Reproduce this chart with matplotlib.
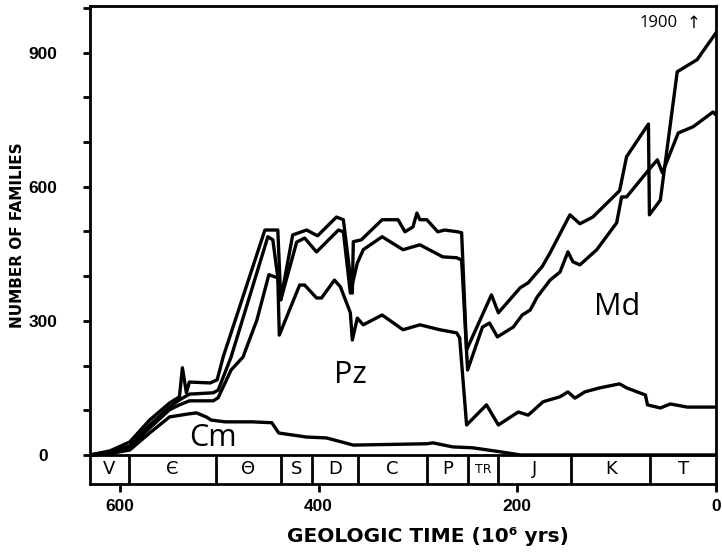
import matplotlib
matplotlib.use("Agg")
import matplotlib.pyplot as plt
from matplotlib.ticker import MultipleLocator, FuncFormatter

# Cambrian fauna (lowest curve)
cm_age = [630, 610, 590, 570, 550, 530, 523, 513, 508, 494, 467, 447, 440, 412, 392, 365,
          291, 285, 265, 245, 217, 197, 0]
cm_n = [0, 3, 11, 49, 85, 92, 94, 85, 78, 74, 74, 72, 49, 40, 38, 22,
        25, 27, 18, 16, 7, 0, 0]

# Cambrian + Paleozoic fauna
pz_age = [630, 610, 590, 570, 550, 540, 530, 506, 501, 488, 476, 462, 450, 441, 439.5, 419, 414,
          402, 397, 384, 378, 368, 366, 361, 355, 336, 315, 298, 278, 261, 258, 251, 231, 219,
          199, 189, 174, 157, 149, 142, 132, 117, 97, 90, 71, 69, 56, 46, 29, 0]
pz_n = [0, 4, 16, 60, 101, 112, 121, 121, 128, 190, 219, 302, 403, 396, 268, 380, 380,
        351, 351, 391, 376, 318, 257, 306, 291, 313, 280, 291, 280, 273, 262, 67, 112, 67,
        96, 89, 119, 130, 141, 127, 141, 150, 159, 150, 134, 112, 105, 114, 107, 107]

# Cambrian + Paleozoic + Modern fauna
md_age = [630, 610, 590, 570, 550, 540, 530, 506, 501, 488, 451, 446, 438, 422, 414, 402, 380,
          375, 368, 361, 355, 336, 315, 298, 275, 261, 256, 250, 235, 228, 220, 204, 195, 187,
          180, 167, 157, 149, 144, 137, 120, 100, 95, 90, 66, 59, 54, 38, 23, 3, 0]
md_n = [0, 7, 20, 67, 107, 123, 136, 139, 145, 219, 488, 481, 347, 476, 485, 454, 503,
        499, 362, 429, 459, 488, 459, 470, 443, 441, 436, 190, 286, 295, 264, 286, 313, 324,
        353, 391, 409, 454, 432, 425, 459, 519, 577, 577, 642, 660, 631, 720, 734, 767, 760]

# total (top curve)
all_age = [630, 610, 590, 570, 550, 540, 537, 533, 530, 509, 502, 496, 454, 441, 438, 426, 412,
           401, 382, 375, 366, 365, 357, 336, 320, 313, 305, 301, 298, 291, 280, 273, 260, 256,
           251, 226, 219, 197, 189, 175, 167, 147, 137, 124, 97, 90, 68, 67, 56, 39, 19, 0]
all_n = [0, 9, 29, 78, 116, 130, 195, 139, 163, 161, 168, 219, 503, 503, 347, 492, 503,
         490, 532, 526, 362, 477, 481, 526, 526, 499, 510, 541, 526, 526, 499, 503, 499, 497,
         235, 358, 318, 374, 385, 421, 452, 537, 517, 532, 591, 667, 740, 537, 570, 857, 884, 944]

periods = ['V', 'Є', 'Θ', 'S', 'D', 'C', 'P', 'TR', 'J', 'K', 'T']
bounds = [630, 591, 503, 438, 407, 360, 291, 250, 219, 146, 66, 0]

x_ticks = [600, 400, 200, 0]

W, H = 722, 555
fig = plt.figure(figsize=(W / 100, H / 100), dpi=100)
ax = fig.add_axes([90 / W, 1 - 484 / H, (716 - 90) / W, (484 - 6) / H])

band_bot = -65
lw = 2.4
for age, n in [(cm_age, cm_n), (pz_age, pz_n), (md_age, md_n), (all_age, all_n)]:
    ax.plot(age, n, color='black', lw=lw, solid_joinstyle='round', zorder=3)

# geologic period band
ax.axhline(0, color='black', lw=2, zorder=2)
ax.vlines(bounds[1:-1], band_bot, 0, color='black', lw=2)
for i, p in enumerate(periods):
    xc = (bounds[i] + bounds[i + 1]) / 2
    fs = 9 if p == 'TR' else 13
    ax.text(xc, -32, p, ha='center', va='center', fontsize=fs, family='DejaVu Sans')

ax.text(506, 38, 'Cm', fontsize=22, ha='center', va='center', family='Open Sans')
ax.text(368, 178, 'Pz', fontsize=22, ha='center', va='center', family='Open Sans')
ax.text(100, 330, 'Md', fontsize=22, ha='center', va='center', family='Open Sans')
ax.text(58, 965, '1900', fontsize=12, ha='center', va='center', family='Open Sans')
ax.text(23, 967, '↑', fontsize=12, ha='center', va='center', family=['DejaVu Sans'])

ax.set_xlim(630, 0)
ax.set_ylim(band_bot, 1004)

for s in ax.spines.values():
    s.set_linewidth(2)

ax.set_xticks(x_ticks)
ax.set_xticklabels([str(t) for t in x_ticks])
ax.tick_params(axis='x', direction='out', length=6, width=2, pad=5)
ax.yaxis.set_major_locator(MultipleLocator(100))
ax.yaxis.set_major_formatter(FuncFormatter(lambda v, pos: str(int(v)) if v % 300 == 0 and v <= 900 else ''))
ax.tick_params(axis='y', direction='out', length=5, width=2, pad=29)
for lab in ax.get_xticklabels() + ax.get_yticklabels():
    lab.set_fontfamily(['Liberation Sans', 'DejaVu Sans'])
    lab.set_fontweight('bold')
    lab.set_fontsize(12.5)
for lab in ax.get_yticklabels():
    lab.set_ha('center')

fig.text(18 / W, 1 - 235 / H, 'NUMBER OF FAMILIES', rotation=90, ha='center', va='center',
         fontsize=11, fontweight='bold', family='DejaVu Sans')
fig.text(428 / W, 1 - 537 / H, 'GEOLOGIC TIME (10⁶ yrs)', ha='center', va='center',
         fontsize=14.5, fontweight='bold', family='DejaVu Sans')

fig.savefig('out.png', dpi=100)
